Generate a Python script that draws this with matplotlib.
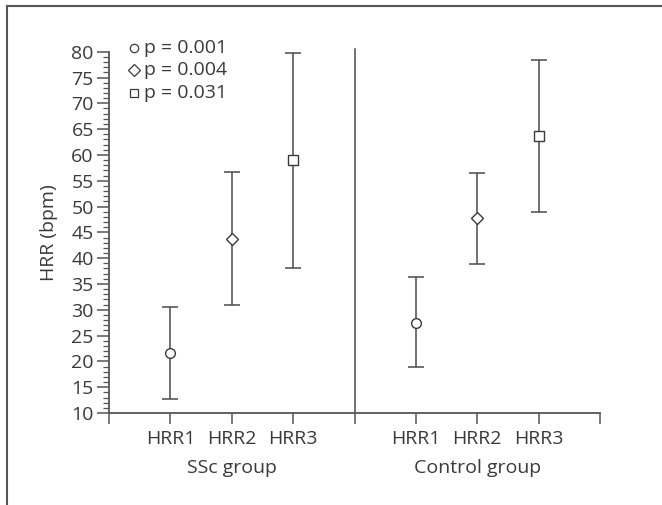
import matplotlib.pyplot as plt
import numpy as np
from matplotlib.lines import Line2D
from matplotlib.ticker import MultipleLocator

plt.rcParams['font.family'] = 'Open Sans'
plt.rcParams['font.size'] = 14

# Data (mean with error bars)
groups = ['SSc group', 'Control group']
measures = ['HRR1', 'HRR2', 'HRR3']
p_labels = ['p = 0.001', 'p = 0.004', 'p = 0.031']
markers = ['o', 'D', 's']

ssc_mean = [21.7, 43.8, 59.0]
ssc_low = [12.8, 31.0, 38.1]
ssc_high = [30.5, 56.6, 79.7]

ctrl_mean = [27.5, 47.7, 63.7]
ctrl_low = [19.0, 38.8, 49.0]
ctrl_high = [36.4, 56.5, 78.4]

ink = '#3a3a3a'
line_c = '#4a4a4a'

fig = plt.figure(figsize=(6.62, 5.05), dpi=100)
ax = fig.add_axes([0.1647, 0.1822, 0.7416, 0.7154])

# figure frame (left and top only)
fig.add_artist(Line2D([0.0106, 0.0106], [0, 0.988], color='#555555', lw=1.5, transform=fig.transFigure))
fig.add_artist(Line2D([0.0106, 1.0], [0.988, 0.988], color='#555555', lw=1.5, transform=fig.transFigure))

x_ssc = np.array([1, 2, 3])
x_ctrl = np.array([5, 6, 7])

for xs, mean, lo, hi in [(x_ssc, ssc_mean, ssc_low, ssc_high),
                         (x_ctrl, ctrl_mean, ctrl_low, ctrl_high)]:
    for x, m, l, h, mk in zip(xs, mean, lo, hi, markers):
        ax.errorbar(x, m, yerr=[[m - l], [h - m]], fmt='none', ecolor=line_c,
                    elinewidth=1.1, capsize=6, capthick=1.1, zorder=2)
        ms = 7 if mk == 'o' else (6 if mk == 'D' else 6.5)
        ax.plot(x, m, marker=mk, ms=ms, mfc='white', mec=ink, mew=1.0,
                linestyle='none', zorder=3)

# divider between groups
ax.plot([4, 4], [10, 80.6], color=line_c, lw=1.1, zorder=1, clip_on=False)

ax.set_xlim(0, 8)
ax.set_ylim(10, 80)
ax.yaxis.set_major_locator(MultipleLocator(5))
ax.yaxis.set_minor_locator(MultipleLocator(1))
ax.set_xticks(np.arange(0, 9))
ax.set_xticklabels([''] + measures + [''] + measures + [''])

for s in ['top', 'right']:
    ax.spines[s].set_visible(False)
for s in ['left', 'bottom']:
    ax.spines[s].set_color('#555555')
    ax.spines[s].set_linewidth(1.3)

ax.tick_params(axis='x', length=8, width=1.1, color='#555555', labelcolor=ink, pad=4)
ax.tick_params(axis='y', which='major', length=9, width=1.1, color='#555555', labelcolor=ink, pad=2)
ax.tick_params(axis='y', which='minor', length=4.5, width=0.9, color='#555555')

ax.set_ylabel('HRR (bpm)', color=ink)
ax.yaxis.set_label_coords(-0.104, 0.5)

# group labels
for xc, g in zip([2, 6], groups):
    ax.text(xc, -0.152, g, transform=ax.get_xaxis_transform(), ha='center', va='center', color=ink)

# legend (markers + p values)
leg_y = [1.011, 0.950, 0.886]
leg_ms = [6, 6.5, 5.5]
for yy, mk, ms, lab in zip(leg_y, markers, leg_ms, p_labels):
    ax.plot(0.050, yy, marker=mk, ms=ms, mfc='white', mec=ink, mew=0.9,
            transform=ax.transAxes, clip_on=False, linestyle='none')
    ax.text(0.072, yy, lab, transform=ax.transAxes, ha='left', va='center', color=ink)

fig.savefig('out.png', dpi=100, facecolor='white')
